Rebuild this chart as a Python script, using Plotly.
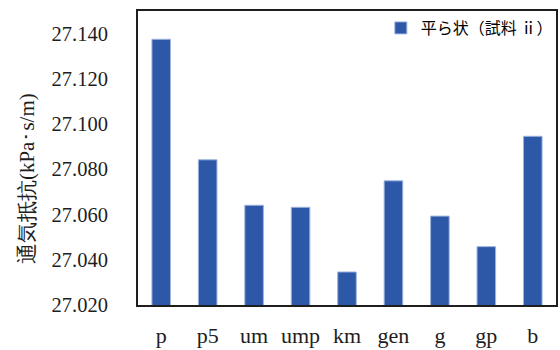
import plotly.graph_objects as go

categories = ["p", "p5", "um", "ump", "km", "gen", "g", "gp", "b"]
values = [27.1375, 27.0842, 27.0641, 27.0632, 27.0346, 27.0749, 27.0593, 27.0458, 27.0946]
series_name = "平ら状（試料 ⅱ）"
y_title = "通気抵抗(kPa･s/m)"
y_ticks = [27.02, 27.04, 27.06, 27.08, 27.10, 27.12, 27.14]

serif = "Liberation Serif"
ink = "#1e1e1e"

fig = go.Figure()
fig.add_trace(go.Bar(
    x=categories, y=values, name=series_name,
    marker=dict(color="#2D58A7", line=dict(color="#9DB3DD", width=1)),
    showlegend=True,
))

fig.add_annotation(
    text=y_title, textangle=-90,
    xref="paper", yref="paper", x=-0.2667, y=0.43,
    xanchor="center", yanchor="middle", showarrow=False,
    font=dict(family=serif, size=21, color=ink),
)

fig.update_layout(
    width=560, height=350,
    margin=dict(l=138, r=2, t=11, b=41),
    paper_bgcolor="white", plot_bgcolor="white",
    bargap=0.6,
    font=dict(family=serif, color=ink, size=17),
    showlegend=True,
    legend=dict(
        x=0.581, y=1.0, xanchor="left", yanchor="top",
        font=dict(family="Noto Sans CJK JP", size=16, color="#000000"),
        bgcolor="rgba(255,255,255,0)", itemwidth=30,
    ),
    xaxis=dict(
        showline=True, linecolor=ink, linewidth=2, mirror=True,
        ticks="", showgrid=False,
        tickfont=dict(family=serif, size=22, color=ink),
        ticklabelstandoff=10,
    ),
    yaxis=dict(
        range=[27.02, 27.15],
        tickvals=y_ticks, tickformat=".3f",
        showline=True, linecolor=ink, linewidth=2, mirror=True,
        ticks="", showgrid=False, zeroline=False,
        tickfont=dict(family=serif, size=20.5, color=ink),
        ticklabelstandoff=24,
    ),
)

fig.write_html("out.html", config={"displayModeBar": False},
               post_script="document.body.style.margin='0';")
